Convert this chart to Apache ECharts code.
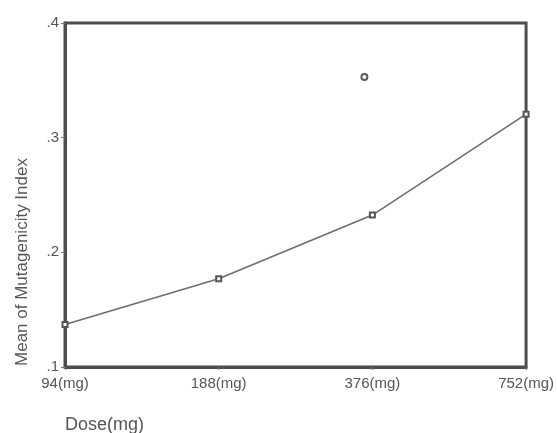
<!DOCTYPE html>
<html>
<head>
<meta charset="utf-8">
<script src="https://cdn.jsdelivr.net/npm/echarts@6/dist/echarts.min.js"></script>
<style>html,body{margin:0;padding:0;background:#fff}#c{width:557px;height:433px}</style>
</head>
<body>
<div id="c"></div>
<script>
const categories = ['94(mg)', '188(mg)', '376(mg)', '752(mg)'];
const meanValues = [0.137, 0.177, 0.2325, 0.3205];
const outlierPoint = ['376(mg)', 0.353];
const yTicks = [0.1, 0.2, 0.3, 0.4];
const xTitle = 'Dose(mg)';
const yTitle = 'Mean of Mutagenicity Index';

const chart = echarts.init(document.getElementById('c'), null, {renderer: 'canvas'});
const txt = '#555';
chart.setOption({
  animation: false,
  backgroundColor: '#fff',
  grid: {left: 65, right: 29, top: 23, bottom: 66, show: true, borderColor: '#4d4d4d', borderWidth: 3},
  xAxis: {
    type: 'category', data: categories, boundaryGap: false,
    axisLine: {show: true, lineStyle: {color: '#4d4d4d', width: 3}},
    axisTick: {show: true, length: 3, alignWithLabel: true, lineStyle: {color: '#777'}},
    axisLabel: {color: txt, fontFamily: 'Liberation Sans, Arial', fontSize: 15, margin: 9},
    splitLine: {show: false}
  },
  yAxis: {
    type: 'value', min: yTicks[0], max: yTicks[yTicks.length - 1], interval: 0.1,
    axisLine: {show: true, lineStyle: {color: '#4d4d4d', width: 3}},
    axisTick: {show: true, length: 4, lineStyle: {color: '#777'}},
    axisLabel: {color: txt, fontFamily: 'Liberation Sans, Arial', fontSize: 15, margin: 6,
      formatter: v => v.toFixed(1).replace(/^0/, '')},
    splitLine: {show: false}
  },
  series: [
    {type: 'line', data: meanValues, symbol: 'emptyRect', symbolSize: 5,
     lineStyle: {color: '#6e6e6e', width: 1.6},
     itemStyle: {color: '#555', borderColor: '#555', borderWidth: 1.2}},
    {type: 'scatter', data: [outlierPoint], symbol: 'emptyCircle', symbolSize: 6,
     symbolOffset: [-8, 0],
     itemStyle: {color: '#333', borderColor: '#333', borderWidth: 1.3}}
  ],
  graphic: [
    {type: 'text', x: 22, y: 262, rotation: Math.PI / 2,
     style: {text: yTitle, fill: txt, font: '17px "Liberation Sans", Arial', textAlign: 'center', textVerticalAlign: 'middle'}},
    {type: 'text', x: 65, y: 425,
     style: {text: xTitle, fill: txt, font: '18px "Liberation Sans", Arial', textAlign: 'left', textVerticalAlign: 'middle'}}
  ]
});
</script>
</body>
</html>
